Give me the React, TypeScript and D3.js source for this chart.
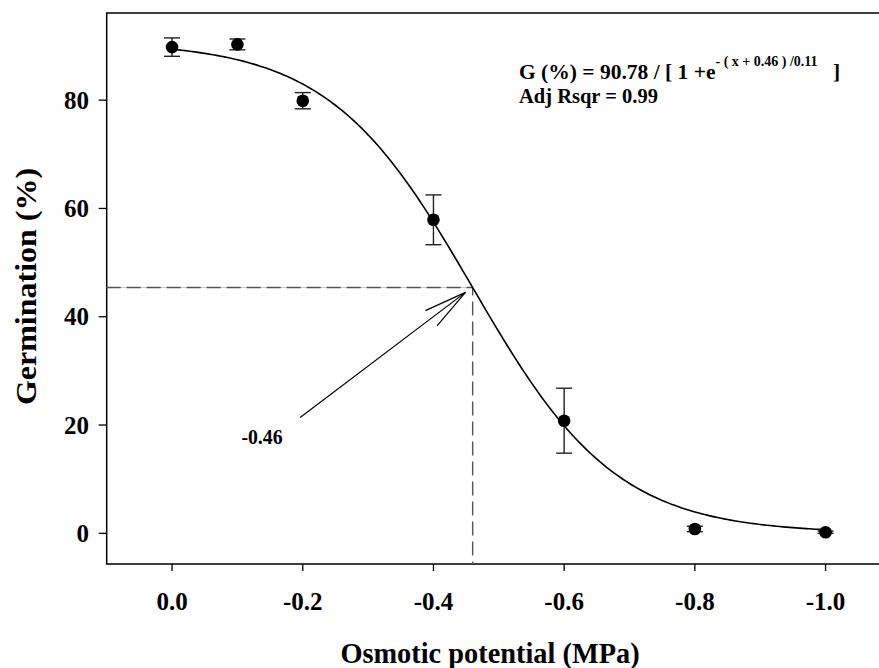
import React from "react";
import * as d3 from "d3";

// measured data (osmotic potential, MPa)
const potentials = [0, -0.1, -0.2, -0.4, -0.6, -0.8, -1.0];
const germination = [89.8, 90.3, 79.9, 57.9, 20.8, 0.8, 0.2];
const errors = [1.7, 1.0, 1.5, 4.6, 6.0, 0.5, 0.2];

const xTicks = [0, -0.2, -0.4, -0.6, -0.8, -1.0];
const yTicks = [0, 20, 40, 60, 80];

// sigmoid fit G = a / (1 + exp(-(x - x0)/b))
const fitA = 90.78;
const fitX0 = -0.46;
const fitB = 0.11;
const adjR2 = 0.99;

// annotation arrow (data units)
const arrowTip = [-0.449, 44.5];
const arrowTail = [-0.196, 21.4];
const arrowLabel = "-0.46";

const W = 879;
const H = 668;
const margin = { left: 106.7, top: 13, bottom: 104 };
const plotRight = 890.9;

const font = "'Liberation Serif', 'Times New Roman', serif";

function Label(props: {
  x: number;
  y: number;
  size: number;
  sx?: number;
  rotate?: number;
  anchor?: string;
  children: React.ReactNode;
}) {
  const { x, y, size, sx = 1, rotate = 0, anchor = "start", children } = props;
  return (
    <text
      transform={`translate(${x},${y}) scale(${sx},1) rotate(${rotate})`}
      textAnchor={anchor}
      fontSize={size}
    >
      {children}
    </text>
  );
}

export default function App() {
  const x = d3.scaleLinear().domain([0.1, -1.1]).range([margin.left, plotRight]);
  const y = d3.scaleLinear().domain([-5.67, 96.1]).range([H - margin.bottom, margin.top]);

  const fit = (v: number) => fitA / (1 + Math.exp(-(v - fitX0) / fitB));
  const samples = d3.range(0, -1.0001, -0.005);
  const line = d3
    .line<number>()
    .x((d) => x(d))
    .y((d) => y(fit(d)));

  const half = fitA / 2;
  const yb = H - margin.bottom;
  const yMid = (margin.top + yb) / 2;

  // arrow head
  const tx = x(arrowTip[0]);
  const ty = y(arrowTip[1]);
  const ang = Math.atan2(y(arrowTail[1]) - ty, x(arrowTail[0]) - tx);
  const headLen = 44;
  const spread = 0.22;
  const h1 = [tx + headLen * Math.cos(ang - spread), ty + headLen * Math.sin(ang - spread)];
  const h2 = [tx + headLen * Math.cos(ang + spread), ty + headLen * Math.sin(ang + spread)];

  return (
    <svg
      width={W}
      height={H}
      style={{ position: "absolute", left: 0, top: 0, background: "#fff" }}
      fontFamily={font}
      fontWeight="bold"
    >
      {/* frame */}
      <path
        d={`M${plotRight},${margin.top}H${margin.left}V${yb}H${plotRight}`}
        fill="none"
        stroke="#000"
        strokeWidth={1.5}
      />

      {/* ticks */}
      {xTicks.map((t) => (
        <g key={"x" + t}>
          <line x1={x(t)} x2={x(t)} y1={yb} y2={yb + 7} stroke="#000" strokeWidth={1.3} />
          <Label x={x(t)} y={610} size={25} anchor="middle">
            {t.toFixed(1)}
          </Label>
        </g>
      ))}
      {yTicks.map((t) => (
        <g key={"y" + t}>
          <line x1={margin.left - 8} x2={margin.left} y1={y(t)} y2={y(t)} stroke="#000" strokeWidth={1.3} />
          <Label x={89} y={y(t) + 8.5} size={25} anchor="end">
            {t}
          </Label>
        </g>
      ))}

      {/* axis titles */}
      <Label x={490} y={663} size={30.5} sx={0.93} anchor="middle">
        Osmotic potential (MPa)
      </Label>
      <Label x={36} y={yMid - 2} size={32} sx={0.93} rotate={-90} anchor="middle">
        Germination (%)
      </Label>

      {/* dashed guides */}
      <line x1={margin.left} x2={x(fitX0)} y1={y(half)} y2={y(half)} stroke="#c8c8c8" strokeWidth={1} />
      <path
        d={`M${margin.left},${y(half)}H${x(fitX0)}V${yb}`}
        fill="none"
        stroke="#555"
        strokeWidth={1.4}
        strokeDasharray="14,6"
      />

      {/* fitted curve */}
      <path d={line(samples) || ""} fill="none" stroke="#000" strokeWidth={1.6} />

      {/* error bars and points */}
      {potentials.map((p, i) => {
        const cx = x(p);
        const lo = y(germination[i] - errors[i]);
        const hi = y(germination[i] + errors[i]);
        return (
          <g key={"p" + i} stroke="#222" strokeWidth={1.4}>
            <line x1={cx} x2={cx} y1={lo} y2={hi} />
            <line x1={cx - 8} x2={cx + 8} y1={lo} y2={lo} />
            <line x1={cx - 8} x2={cx + 8} y1={hi} y2={hi} />
            <circle cx={cx} cy={y(germination[i])} r={6.3} fill="#000" stroke="none" />
          </g>
        );
      })}

      {/* arrow annotation */}
      <g stroke="#000" strokeWidth={1.2} fill="none">
        <line x1={x(arrowTail[0])} y1={y(arrowTail[1])} x2={tx} y2={ty} />
        <line x1={tx} y1={ty} x2={h1[0]} y2={h1[1]} />
        <line x1={tx} y1={ty} x2={h2[0]} y2={h2[1]} />
      </g>
      <Label x={262} y={444} size={22} sx={0.9} anchor="middle">
        {arrowLabel}
      </Label>

      {/* equation */}
      <text x={519} y={79} fontSize={21.5}>
        {`G (%) = ${fitA} / [ 1 +e`}
        <tspan fontSize={14} dy={-13}>
          {`- ( x + ${-fitX0} ) /${fitB}`}
        </tspan>
      </text>
      <text x={833} y={79} fontSize={21.5}>
        ]
      </text>
      <text x={519} y={103} fontSize={20.5}>
        {`Adj Rsqr = ${adjR2}`}
      </text>
    </svg>
  );
}
